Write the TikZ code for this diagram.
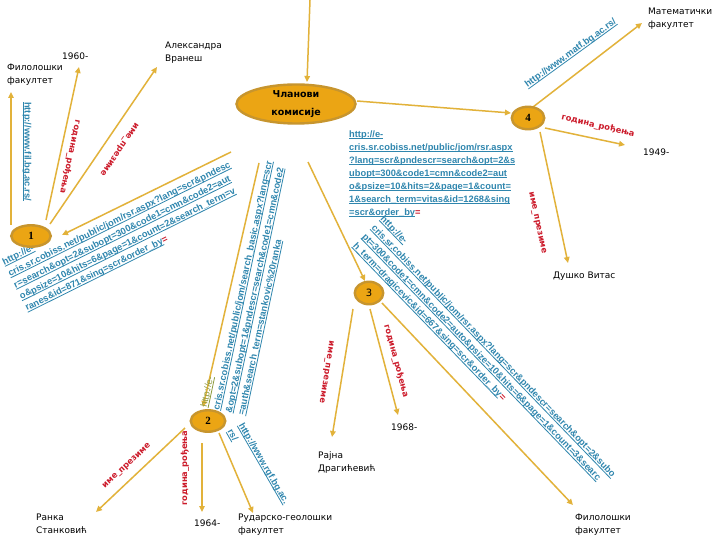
\documentclass[tikz,border=0pt]{standalone}
\usepackage{fontspec}
\setmainfont{DejaVu Sans}
\newfontfamily\urlfont{Liberation Sans}
\newfontfamily\numfont{Liberation Serif}
\usetikzlibrary{arrows.meta,shapes.geometric}
\definecolor{gold}{HTML}{E2B23A}
\definecolor{nodefill}{HTML}{EBA514}
\definecolor{noderim}{HTML}{C7952E}
\definecolor{linkblue}{HTML}{2F86AE}
\definecolor{labred}{HTML}{CC1B2B}
\definecolor{olivec}{HTML}{8C9A3C}
\newsavebox\ulbox
\newcommand{\ulk}[1]{\sbox\ulbox{#1}\rlap{\rule[-1.8pt]{\wd\ulbox}{0.8pt}}\usebox\ulbox}
\newcommand{\reqs}{{\color{labred}=}}
\begin{document}
\begin{tikzpicture}[x=1pt,y=-1pt,
  conn/.style={draw=gold,line width=1.5pt,-{Triangle[length=6pt,width=5.5pt]}},
  num/.style={ellipse,fill=nodefill,draw=noderim,line width=2.4pt,inner sep=0pt,font=\numfont\bfseries\fontsize{11}{11}\selectfont},
  leaf/.style={anchor=north west,inner sep=0pt,align=left,font=\fontsize{9}{13}\selectfont},
  lab/.style={inner sep=0pt,text=labred,font=\bfseries\fontsize{8.3}{10}\selectfont},
  url/.style={anchor=west,inner sep=0pt,align=left,text=linkblue,font=\urlfont\bfseries\fontsize{9.3}{12.8}\selectfont}]
\fill[white] (0,0) rectangle (720,540);
\useasboundingbox (0,0) rectangle (720,540);

% end points of connectors
\coordinate (top) at (310,0);   \coordinate (ctop) at (307,82);
\coordinate (c1s) at (231,152); \coordinate (c1e) at (62,235);
\coordinate (c2s) at (259,163); \coordinate (c2e) at (203,407);
\coordinate (c3s) at (308,162); \coordinate (c3e) at (365,281);
\coordinate (c4s) at (357,101); \coordinate (c4e) at (511,113);
\coordinate (a1s) at (11,225);  \coordinate (a1e) at (11,92);
\coordinate (b1s) at (46,220);  \coordinate (b1e) at (79,67);
\coordinate (d1s) at (50,224);  \coordinate (d1e) at (157,67);
\coordinate (a2s) at (185,428); \coordinate (a2e) at (96,512);
\coordinate (b2s) at (202,443); \coordinate (b2e) at (202,512);
\coordinate (d2s) at (219,433); \coordinate (d2e) at (253,513);
\coordinate (a3s) at (353,309); \coordinate (a3e) at (332,437);
\coordinate (b3s) at (370,309); \coordinate (b3e) at (398,415);
\coordinate (d3s) at (382,303); \coordinate (d3e) at (573,505);
\coordinate (a4s) at (533,107); \coordinate (a4e) at (642,23);
\coordinate (b4s) at (545,128); \coordinate (b4e) at (625,145);
\coordinate (d4s) at (540,132); \coordinate (d4e) at (568,263);

\draw[conn] (top) -- (ctop);
\draw[conn] (c1s) -- (c1e);
\draw[conn] (c2s) -- (c2e);
\draw[conn] (c3s) -- (c3e);
\draw[conn] (c4s) -- (c4e);
\draw[conn] (a1s) -- (a1e);
\draw[conn] (b1s) -- (b1e);
\draw[conn] (d1s) -- (d1e);
\draw[conn] (a2s) -- (a2e);
\draw[conn] (b2s) -- (b2e);
\draw[conn] (d2s) -- (d2e);
\draw[conn] (a3s) -- (a3e);
\draw[conn] (b3s) -- (b3e);
\draw[conn] (d3s) -- (d3e);
\draw[conn] (a4s) -- (a4e);
\draw[conn] (b4s) -- (b4e);
\draw[conn] (d4s) -- (d4e);

% links
\node[url,rotate=26.4] (u1) at (14.5,286) {\ulk{http://e-}\\
\ulk{cris.sr.cobiss.net/public/jom/rsr.aspx?lang=scr\&pndesc}\\
\ulk{r=search\&opt=2\&subopt=300\&code1=cmn\&code2=aut}\\
\ulk{o\&psize=10\&hits=6\&page=1\&count=2\&search\_term=v}\\
\ulk{ranes\&id=871\&sing=scr\&order\_by}\reqs};
\node[url,rotate=78] (u2) at (223,411.5) {{\color{olivec}\mdseries\ulk{http://e-}}\\
\ulk{cris.sr.cobiss.net/public/jom/search\_basic.aspx?lang=scr}\\
\ulk{\&opt=2\&subopt=1\&pndescr=search\&code1=cmn\&code2}\\
\ulk{=auth\&search\_term=stankovic\%20ranka}};
\node[url,rotate=-60] (u2s) at (235,427) {\ulk{http://www.rgf.bg.ac.}\\\ulk{rs/}};
\node[url,rotate=-46] (u3) at (368,231) {\ulk{http://e-}\\
\ulk{cris.sr.cobiss.net/public/jom/rsr.aspx?lang=scr\&pndescr=search\&opt=2\&subo}\\
\ulk{pt=300\&code1=cmn\&code2=auto\&psize=10\&hits=6\&page=1\&count=3\&searc}\\
\ulk{h\_term=dragicevic\&id=667\&sing=scr\&order\_by}\reqs};
\node[url,font=\urlfont\bfseries\fontsize{9.3}{13}\selectfont] (u4) at (349,174) {\ulk{http://e-}\\
\ulk{cris.sr.cobiss.net/public/jom/rsr.aspx}\\
\ulk{?lang=scr\&pndescr=search\&opt=2\&s}\\
\ulk{ubopt=300\&code1=cmn\&code2=aut}\\
\ulk{o\&psize=10\&hits=2\&page=1\&count=}\\
\ulk{1\&search\_term=vitas\&id=1268\&sing}\\
\ulk{=scr\&order\_by}\reqs};
\node[url,rotate=-90] (ufil) at (27,102) {\ulk{http://www.fil.bg.ac.rs/}};
\node[url,rotate=36] (umatf) at (526,86) {\ulk{http://www.matf.bg.ac.rs/}};

% relation labels
\node[lab,rotate=-102] (l1a) at (70,157) {година\_рођења};
\node[lab,rotate=-124] (l1b) at (119,149) {име\_презиме};
\node[lab,rotate=43] (l2a) at (127,466) {име\_презиме};
\node[lab,rotate=90] (l2b) at (185,468) {година\_рођења};
\node[lab,rotate=-99] (l3a) at (326,372) {име\_презиме};
\node[lab,rotate=-75] (l3b) at (396,361) {година\_рођења};
\node[lab,rotate=-13] (l4a) at (598,126) {година\_рођења};
\node[lab,rotate=-78] (l4b) at (537,223) {име\_презиме};

% leaves
\node[leaf] (fil1) at (7,63.5) {Филолошки\\факултет};
\node[leaf] (y1960) at (62,52.5) {1960-};
\node[leaf] (vranes) at (165,41.5) {Александра\\Вранеш};
\node[leaf] (matf) at (648,7.5) {Математички\\факултет};
\node[leaf] (y1949) at (643,148.5) {1949-};
\node[leaf] (vitas) at (553,271.5) {Душко Витас};
\node[leaf] (y1968) at (391,423.5) {1968-};
\node[leaf] (rajna) at (318,451.5) {Рајна\\Драгићевић};
\node[leaf] (fil2) at (575,513.5) {Филолошки\\факултет};
\node[leaf] (ranka) at (36,513.5) {Ранка\\Станковић};
\node[leaf] (y1964) at (194,519.5) {1964-};
\node[leaf] (rgf) at (238,513.5) {Рударско-геолошки\\факултет};

% topic nodes
\node[num,minimum width=119pt,minimum height=39pt,align=center,font=\bfseries\fontsize{9.5}{17.5}\selectfont] (c) at (296,104) {Чланови\\комисије};
\node[num,minimum width=39.5pt,minimum height=21.5pt] (n1) at (31,236) {1};
\node[num,minimum width=34.5pt,minimum height=21.5pt] (n2) at (208,421) {2};
\node[num,minimum width=28.5pt,minimum height=22.5pt,font=\fontsize{10}{10}\selectfont] (n3) at (369,293) {3};
\node[num,minimum width=32.5pt,minimum height=22.5pt] (n4) at (528,118) {4};
\end{tikzpicture}
\end{document}
